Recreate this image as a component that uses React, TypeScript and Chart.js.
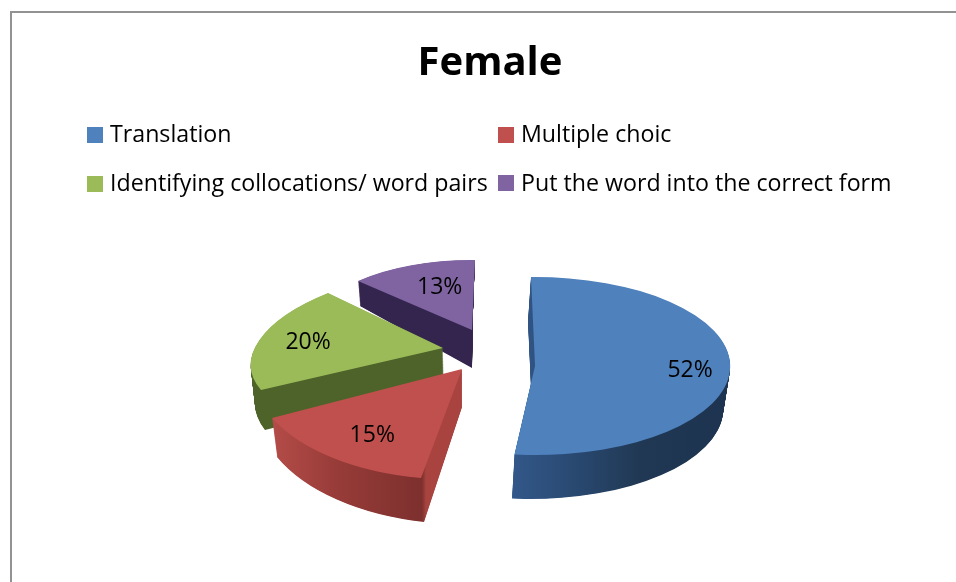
import React, { useEffect, useRef } from "react";
import { Chart, registerables } from "chart.js";

Chart.register(...registerables);

const chartTitle = "Female";
const categories = [
  "Translation",
  "Multiple choic",
  "Identifying collocations/ word pairs",
  "Put the word into the correct form",
];
const shares = [52, 15, 20, 13];
const topColors = ["#4f81bd", "#c0504d", "#9bbb59", "#8064a2"];

type Pt = [number, number];
interface SliceView {
  frac: [number, number];
  top: [Pt, Pt, Pt];
  bottom: [Pt, Pt, Pt];
  wall: [number, string][];
  labelAt: number;
  labelShift: Pt;
}

// how each exploded slice is projected to fake the 3D view: [apex, control 1, control 2]
const views: SliceView[] = [
  {
    frac: [0, 0.5],
    top: [[535, 366], [531, 277], [730, 370]],
    bottom: [[532, 410], [528, 321], [723, 413]],
    wall: [[505, "#33598c"], [570, "#2a4a73"], [640, "#203853"], [735, "#1d3350"]],
    labelAt: 0.79,
    labelShift: [1, 1],
  },
  {
    frac: [0, 1],
    top: [[462, 369], [421, 478], [272, 418]],
    bottom: [[462, 407], [424, 522], [277, 457]],
    wall: [[272, "#b44c48"], [340, "#963b38"], [422, "#7d302e"], [426, "#a8433f"], [462, "#a8433f"]],
    labelAt: 0.7,
    labelShift: [1, 4],
  },
  {
    frac: [0, 1],
    top: [[443, 348], [261, 390], [328, 293]],
    bottom: [[444, 384], [265, 430], [331, 323]],
    wall: [[260, "#4d6329"], [445, "#4d6329"]],
    labelAt: 0.735,
    labelShift: [0, 0],
  },
  {
    frac: [0, 1],
    top: [[472, 330], [358, 281], [475, 260]],
    bottom: [[472, 368], [360, 306], [472.5, 298]],
    wall: [[355, "#33254d"], [476, "#33254d"]],
    labelAt: 0.6,
    labelShift: [4, -4],
  },
];

const paintOrder = [3, 2, 1, 0];

const legendCells = [
  { box: [87, 127], text: [110, 142] },
  { box: [498, 127], text: [521, 142] },
  { box: [87, 176], text: [110, 191] },
  { box: [498, 175], text: [521, 191] },
];

const textFont = '"Open Sans", sans-serif';

function mix(a: Pt, b: Pt, t: number): Pt {
  return [a[0] + (b[0] - a[0]) * t, a[1] + (b[1] - a[1]) * t];
}

function sliceMatrix(arc: any, view: SliceView, pts: [Pt, Pt, Pt]) {
  const r = arc.outerRadius;
  const sweep = arc.endAngle - arc.startAngle;
  const t1 = arc.startAngle + view.frac[0] * sweep;
  const t2 = arc.startAngle + view.frac[1] * sweep;
  const [ux1, uy1] = [r * Math.cos(t1), r * Math.sin(t1)];
  const [ux2, uy2] = [r * Math.cos(t2), r * Math.sin(t2)];
  const det = ux1 * uy2 - ux2 * uy1;
  const [A, P1, P2] = pts;
  const [vx1, vy1] = [P1[0] - A[0], P1[1] - A[1]];
  const [vx2, vy2] = [P2[0] - A[0], P2[1] - A[1]];
  const a = (vx1 * uy2 - vx2 * uy1) / det;
  const b = (-vx1 * ux2 + vx2 * ux1) / det;
  const c = (vy1 * uy2 - vy2 * uy1) / det;
  const d = (-vy1 * ux2 + vy2 * ux1) / det;
  const e = A[0] - a * arc.x - b * arc.y;
  const f = A[1] - c * arc.x - d * arc.y;
  return { a, b, c, d, e, f };
}

const pie3d = {
  id: "pie3d",
  beforeDraw(chart: any) {
    const ctx = chart.ctx;
    ctx.save();
    ctx.fillStyle = "#ffffff";
    ctx.fillRect(0, 0, chart.width, chart.height);
    ctx.strokeStyle = "#929292";
    ctx.lineWidth = 2;
    ctx.strokeRect(11, 12, chart.width + 40, chart.height + 40);
    ctx.restore();
  },
  beforeDatasetsDraw(chart: any) {
    const ctx = chart.ctx;
    const arcs = chart.getDatasetMeta(0).data;
    const layers = 60;
    for (const i of paintOrder) {
      const arc = arcs[i];
      const view = views[i];
      const base = arc.options;
      const xs = view.wall.map((s) => s[0]);
      const x0 = Math.min(...xs);
      const x1 = Math.max(...xs);
      for (let k = layers; k > 0; k--) {
        const t = k / layers;
        const pts = [0, 1, 2].map((j) => mix(view.top[j], view.bottom[j], t)) as [Pt, Pt, Pt];
        const m = sliceMatrix(arc, view, pts);
        ctx.save();
        ctx.transform(m.a, m.c, m.b, m.d, m.e, m.f);
        const n = m.a * m.a + m.b * m.b;
        const g = ctx.createLinearGradient(
          ((x0 - m.e) * m.a) / n,
          ((x0 - m.e) * m.b) / n,
          ((x1 - m.e) * m.a) / n,
          ((x1 - m.e) * m.b) / n
        );
        view.wall.forEach(([x, col]) => g.addColorStop((x - x0) / (x1 - x0), col));
        arc.options = { ...base, backgroundColor: g };
        arc.draw(ctx);
        ctx.restore();
      }
      arc.options = base;
      const m = sliceMatrix(arc, view, view.top);
      ctx.save();
      ctx.transform(m.a, m.c, m.b, m.d, m.e, m.f);
      arc.draw(ctx);
      ctx.restore();
    }
    // value labels
    ctx.save();
    ctx.fillStyle = "#000000";
    ctx.font = `23px ${textFont}`;
    ctx.textAlign = "center";
    ctx.textBaseline = "middle";
    arcs.forEach((arc: any, i: number) => {
      const view = views[i];
      const m = sliceMatrix(arc, view, view.top);
      const mid = (arc.startAngle + arc.endAngle) / 2;
      const ux = arc.x + arc.outerRadius * view.labelAt * Math.cos(mid);
      const uy = arc.y + arc.outerRadius * view.labelAt * Math.sin(mid);
      ctx.fillText(
        `${shares[i]}%`,
        m.a * ux + m.b * uy + m.e + view.labelShift[0],
        m.c * ux + m.d * uy + m.f + view.labelShift[1]
      );
    });
    ctx.restore();
    return false;
  },
  afterDraw(chart: any) {
    const ctx = chart.ctx;
    ctx.save();
    ctx.font = `23.2px ${textFont}`;
    ctx.textBaseline = "alphabetic";
    ctx.textAlign = "left";
    categories.forEach((name, i) => {
      const cell = legendCells[i];
      ctx.fillStyle = topColors[i];
      ctx.fillRect(cell.box[0], cell.box[1], 16, 16);
      ctx.fillStyle = "#000000";
      ctx.fillText(name, cell.text[0], cell.text[1]);
    });
    ctx.restore();
  },
};

export default function App() {
  const ref = useRef<HTMLCanvasElement>(null);
  useEffect(() => {
    const chart = new Chart(ref.current as HTMLCanvasElement, {
      type: "pie",
      data: {
        labels: categories,
        datasets: [
          {
            data: shares,
            backgroundColor: topColors,
            borderWidth: 0,
          },
        ],
      },
      options: {
        animation: false,
        responsive: false,
        rotation: -3,
        layout: { padding: { left: 24 } },
        plugins: {
          legend: { display: false },
          tooltip: { enabled: false },
          title: {
            display: true,
            text: chartTitle,
            color: "#000000",
            font: { family: textFont, size: 40, weight: "bold" },
            padding: { top: 40, bottom: 10 },
          },
        },
      },
      plugins: [pie3d],
    } as any);
    return () => chart.destroy();
  }, []);
  return (
    <div style={{ position: "fixed", left: 0, top: 0, width: 956, height: 582, overflow: "hidden" }}>
      <canvas ref={ref} width={956} height={582} style={{ display: "block" }} />
    </div>
  );
}
